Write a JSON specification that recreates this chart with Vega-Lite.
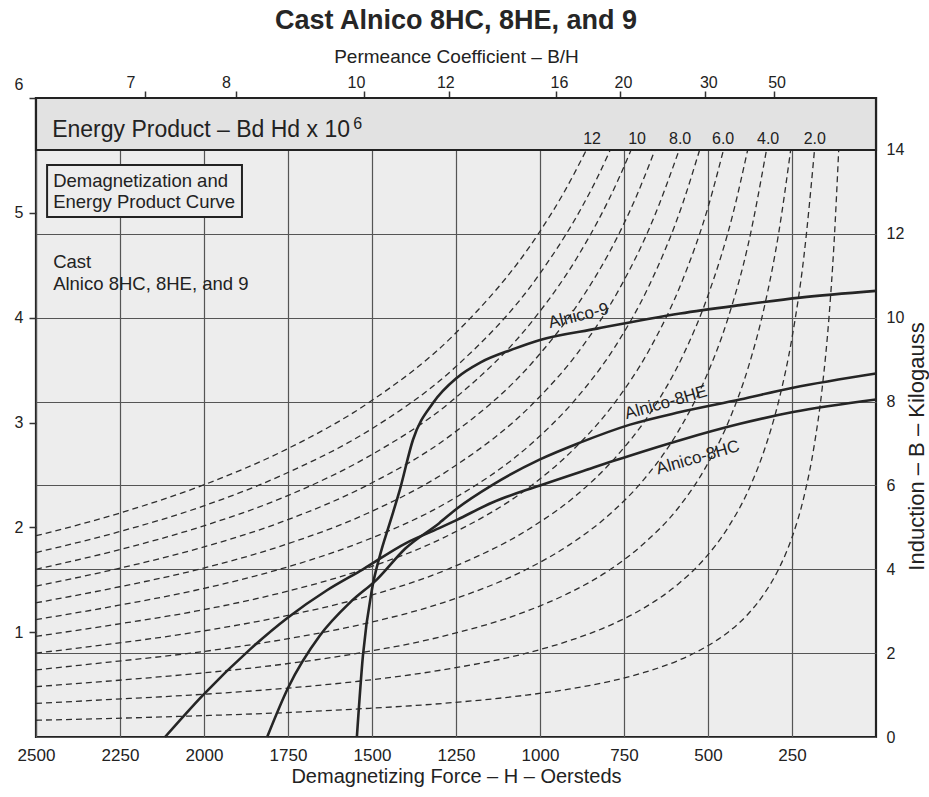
{
"$schema": "https://vega.github.io/schema/vega-lite/v6.json",
"width": 840,
"height": 639,
"autosize": {"type": "none"},
"padding": {"left": 36, "top": 98, "right": 53, "bottom": 60},
"background": "#ffffff",
"title": {"text": "Cast Alnico 8HC, 8HE, and 9", "fontSize": 27, "fontWeight": "bold", "font": "Liberation Sans", "color": "#262626", "anchor": "middle", "offset": 12},
"config": {"font": "Liberation Sans", "view": {"fill": "#ededed", "stroke": "#222222", "strokeWidth": 2.2}, "text": {"font": "Liberation Sans", "color": "#222222"}},
"resolve": {"axis": {"x": "independent", "y": "independent"}},
"data": {"values": [{}]},
"datasets": {
"energy": [
{"E":12,"H":2500,"B":4.8},{"E":12,"H":2255,"B":5.33},{"E":12,"H":2005,"B":6.0},{"E":12,"H":1755,"B":6.86},{"E":12,"H":1505,"B":8.0},{"E":12,"H":1255,"B":9.6},{"E":12,"H":1005,"B":12.0},{"E":12,"H":930,"B":12.97},{"E":12,"H":862,"B":14},
{"E":11,"H":2500,"B":4.4},{"E":11,"H":2255,"B":4.89},{"E":11,"H":2005,"B":5.5},{"E":11,"H":1755,"B":6.29},{"E":11,"H":1505,"B":7.33},{"E":11,"H":1255,"B":8.8},{"E":11,"H":1005,"B":11.0},{"E":11,"H":880,"B":12.57},{"E":11,"H":830,"B":13.33},{"E":11,"H":791,"B":14},
{"E":10,"H":2500,"B":4.0},{"E":10,"H":2265,"B":4.44},{"E":10,"H":2015,"B":5.0},{"E":10,"H":1765,"B":5.71},{"E":10,"H":1515,"B":6.67},{"E":10,"H":1265,"B":8.0},{"E":10,"H":1015,"B":10.0},{"E":10,"H":890,"B":11.43},{"E":10,"H":765,"B":13.33},{"E":10,"H":729,"B":14},
{"E":9,"H":2500,"B":3.6},{"E":9,"H":2265,"B":4.0},{"E":9,"H":2015,"B":4.5},{"E":9,"H":1765,"B":5.14},{"E":9,"H":1515,"B":6.0},{"E":9,"H":1265,"B":7.2},{"E":9,"H":1015,"B":9.0},{"E":9,"H":890,"B":10.29},{"E":9,"H":765,"B":12.0},{"E":9,"H":715,"B":12.86},{"E":9,"H":658,"B":14},
{"E":8,"H":2500,"B":3.2},{"E":8,"H":2265,"B":3.56},{"E":8,"H":2015,"B":4.0},{"E":8,"H":1765,"B":4.57},{"E":8,"H":1515,"B":5.33},{"E":8,"H":1265,"B":6.4},{"E":8,"H":1015,"B":8.0},{"E":8,"H":890,"B":9.14},{"E":8,"H":765,"B":10.67},{"E":8,"H":665,"B":12.31},{"E":8,"H":586,"B":14},
{"E":7,"H":2500,"B":2.8},{"E":7,"H":2275,"B":3.11},{"E":7,"H":2025,"B":3.5},{"E":7,"H":1775,"B":4.0},{"E":7,"H":1525,"B":4.67},{"E":7,"H":1275,"B":5.6},{"E":7,"H":1025,"B":7.0},{"E":7,"H":900,"B":8.0},{"E":7,"H":775,"B":9.33},{"E":7,"H":675,"B":10.77},{"E":7,"H":575,"B":12.73},{"E":7,"H":525,"B":14},
{"E":6,"H":2500,"B":2.4},{"E":6,"H":2275,"B":2.67},{"E":6,"H":2025,"B":3.0},{"E":6,"H":1775,"B":3.43},{"E":6,"H":1525,"B":4.0},{"E":6,"H":1275,"B":4.8},{"E":6,"H":1025,"B":6.0},{"E":6,"H":900,"B":6.86},{"E":6,"H":775,"B":8.0},{"E":6,"H":675,"B":9.23},{"E":6,"H":575,"B":10.91},{"E":6,"H":500,"B":12.63},{"E":6,"H":454,"B":14},
{"E":5,"H":2500,"B":2.0},{"E":5,"H":2275,"B":2.22},{"E":5,"H":2025,"B":2.5},{"E":5,"H":1775,"B":2.86},{"E":5,"H":1525,"B":3.33},{"E":5,"H":1275,"B":4.0},{"E":5,"H":1025,"B":5.0},{"E":5,"H":900,"B":5.71},{"E":5,"H":775,"B":6.67},{"E":5,"H":675,"B":7.69},{"E":5,"H":575,"B":9.09},{"E":5,"H":500,"B":10.53},{"E":5,"H":425,"B":12.5},{"E":5,"H":382,"B":14},
{"E":4,"H":2500,"B":1.6},{"E":4,"H":2290,"B":1.78},{"E":4,"H":2040,"B":2.0},{"E":4,"H":1790,"B":2.29},{"E":4,"H":1540,"B":2.67},{"E":4,"H":1290,"B":3.2},{"E":4,"H":1040,"B":4.0},{"E":4,"H":915,"B":4.57},{"E":4,"H":790,"B":5.33},{"E":4,"H":690,"B":6.15},{"E":4,"H":590,"B":7.27},{"E":4,"H":515,"B":8.42},{"E":4,"H":440,"B":10.0},{"E":4,"H":380,"B":11.76},{"E":4,"H":326,"B":14},
{"E":3,"H":2500,"B":1.2},{"E":3,"H":2290,"B":1.33},{"E":3,"H":2040,"B":1.5},{"E":3,"H":1790,"B":1.71},{"E":3,"H":1540,"B":2.0},{"E":3,"H":1290,"B":2.4},{"E":3,"H":1040,"B":3.0},{"E":3,"H":915,"B":3.43},{"E":3,"H":790,"B":4.0},{"E":3,"H":690,"B":4.62},{"E":3,"H":590,"B":5.45},{"E":3,"H":515,"B":6.32},{"E":3,"H":440,"B":7.5},{"E":3,"H":380,"B":8.82},{"E":3,"H":330,"B":10.34},{"E":3,"H":290,"B":12.0},{"E":3,"H":254,"B":14},
{"E":2,"H":2500,"B":0.8},{"E":2,"H":2290,"B":0.89},{"E":2,"H":2040,"B":1.0},{"E":2,"H":1790,"B":1.14},{"E":2,"H":1540,"B":1.33},{"E":2,"H":1290,"B":1.6},{"E":2,"H":1040,"B":2.0},{"E":2,"H":915,"B":2.29},{"E":2,"H":790,"B":2.67},{"E":2,"H":690,"B":3.08},{"E":2,"H":590,"B":3.64},{"E":2,"H":515,"B":4.21},{"E":2,"H":440,"B":5.0},{"E":2,"H":380,"B":5.88},{"E":2,"H":330,"B":6.9},{"E":2,"H":290,"B":8.0},{"E":2,"H":250,"B":9.52},{"E":2,"H":215,"B":11.43},{"E":2,"H":183,"B":14},
{"E":1,"H":2500,"B":0.4},{"E":1,"H":2290,"B":0.44},{"E":1,"H":2040,"B":0.5},{"E":1,"H":1790,"B":0.57},{"E":1,"H":1540,"B":0.67},{"E":1,"H":1290,"B":0.8},{"E":1,"H":1040,"B":1.0},{"E":1,"H":915,"B":1.14},{"E":1,"H":790,"B":1.33},{"E":1,"H":690,"B":1.54},{"E":1,"H":590,"B":1.82},{"E":1,"H":515,"B":2.11},{"E":1,"H":440,"B":2.5},{"E":1,"H":380,"B":2.94},{"E":1,"H":330,"B":3.45},{"E":1,"H":290,"B":4.0},{"E":1,"H":250,"B":4.76},{"E":1,"H":215,"B":5.71},{"E":1,"H":185,"B":6.9},{"E":1,"H":160,"B":8.33},{"E":1,"H":140,"B":10.0},{"E":1,"H":125,"B":11.76},{"E":1,"H":111,"B":14}
],
"elabels": [
{"t":"12","H":845},{"t":"10","H":711},{"t":"8.0","H":583},{"t":"6.0","H":455},{"t":"4.0","H":321},{"t":"2.0","H":182}
],
"demag": [
{"alloy":"Alnico-9","H":1545,"B":0},{"alloy":"Alnico-9","H":1527,"B":1.94},{"alloy":"Alnico-9","H":1500,"B":3.53},{"alloy":"Alnico-9","H":1476,"B":4.34},{"alloy":"Alnico-9","H":1446,"B":5.13},{"alloy":"Alnico-9","H":1417,"B":5.9},{"alloy":"Alnico-9","H":1378,"B":7.09},{"alloy":"Alnico-9","H":1318,"B":7.97},{"alloy":"Alnico-9","H":1247,"B":8.57},{"alloy":"Alnico-9","H":1178,"B":8.93},{"alloy":"Alnico-9","H":1080,"B":9.25},{"alloy":"Alnico-9","H":1000,"B":9.47},{"alloy":"Alnico-9","H":830,"B":9.74},{"alloy":"Alnico-9","H":583,"B":10.1},{"alloy":"Alnico-9","H":405,"B":10.3},{"alloy":"Alnico-9","H":226,"B":10.48},{"alloy":"Alnico-9","H":0,"B":10.64},
{"alloy":"Alnico-8HE","H":1812,"B":0},{"alloy":"Alnico-8HE","H":1750,"B":1.17},{"alloy":"Alnico-8HE","H":1655,"B":2.42},{"alloy":"Alnico-8HE","H":1565,"B":3.21},{"alloy":"Alnico-8HE","H":1485,"B":3.76},{"alloy":"Alnico-8HE","H":1400,"B":4.5},{"alloy":"Alnico-8HE","H":1300,"B":5.1},{"alloy":"Alnico-8HE","H":1247,"B":5.45},{"alloy":"Alnico-8HE","H":1140,"B":6.02},{"alloy":"Alnico-8HE","H":1000,"B":6.62},{"alloy":"Alnico-8HE","H":881,"B":7.02},{"alloy":"Alnico-8HE","H":732,"B":7.45},{"alloy":"Alnico-8HE","H":583,"B":7.75},{"alloy":"Alnico-8HE","H":405,"B":8.05},{"alloy":"Alnico-8HE","H":247,"B":8.33},{"alloy":"Alnico-8HE","H":0,"B":8.67},
{"alloy":"Alnico-8HC","H":2116,"B":0},{"alloy":"Alnico-8HC","H":2003,"B":1.0},{"alloy":"Alnico-8HC","H":1863,"B":2.09},{"alloy":"Alnico-8HC","H":1750,"B":2.85},{"alloy":"Alnico-8HC","H":1634,"B":3.5},{"alloy":"Alnico-8HC","H":1527,"B":4.0},{"alloy":"Alnico-8HC","H":1400,"B":4.62},{"alloy":"Alnico-8HC","H":1300,"B":4.98},{"alloy":"Alnico-8HC","H":1247,"B":5.18},{"alloy":"Alnico-8HC","H":1140,"B":5.6},{"alloy":"Alnico-8HC","H":1000,"B":6.0},{"alloy":"Alnico-8HC","H":851,"B":6.4},{"alloy":"Alnico-8HC","H":783,"B":6.58},{"alloy":"Alnico-8HC","H":583,"B":7.08},{"alloy":"Alnico-8HC","H":405,"B":7.47},{"alloy":"Alnico-8HC","H":247,"B":7.75},{"alloy":"Alnico-8HC","H":0,"B":8.05}
]
},
"layer": [
{
"data": {"name": "energy"},
"mark": {"type": "line", "interpolate": "monotone", "strokeDash": [6, 4], "strokeWidth": 1.3, "color": "#2e2e2e"},
"encoding": {
"x": {"field": "H", "type": "quantitative", "scale": {"domain": [0, 2500], "reverse": true, "nice": false, "zero": false},
"axis": {"orient": "bottom", "values": [2500, 2250, 2000, 1750, 1500, 1250, 1000, 750, 500, 250], "format": "d", "title": "Demagnetizing Force – H – Oersteds", "grid": true, "gridColor": "#555555", "gridWidth": 1.2, "gridOpacity": 1, "domain": false, "ticks": false, "labelFlush": false, "labelOverlap": false, "labelFontSize": 17, "labelColor": "#222222", "labelPadding": 10, "titleFontSize": 20, "titleFontWeight": "normal", "titleColor": "#222222", "titlePadding": 3}},
"y": {"field": "B", "type": "quantitative", "scale": {"domain": [0, 15.24], "nice": false, "zero": true},
"axis": {"orient": "right", "values": [0, 2, 4, 6, 8, 10, 12, 14], "title": "Induction – B – Kilogauss", "grid": true, "gridColor": "#555555", "gridWidth": 1.2, "gridOpacity": 1, "domain": false, "ticks": false, "labelFlush": false, "labelOverlap": false, "labelFontSize": 16, "labelColor": "#222222", "labelPadding": 10, "titleFontSize": 22, "titleFontWeight": "normal", "titleColor": "#222222", "titleAngle": 270, "titleX": 40, "titleY": 348, "titleAlign": "center", "titleBaseline": "middle"}},
"detail": {"field": "E", "type": "nominal"}
}
},
{
"mark": {"type": "rect", "fill": "#e2e2e2", "stroke": "#222222", "strokeWidth": 2.2},
"encoding": {
"x": {"datum": 2500, "type": "quantitative", "axis": null},
"x2": {"datum": 0},
"y": {"datum": 14, "type": "quantitative", "axis": null},
"y2": {"datum": 15.24}
}
},
{
"mark": {"type": "text", "text": "Energy Product – Bd Hd x 10", "fontSize": 23, "align": "left", "baseline": "alphabetic"},
"encoding": {
"x": {"datum": 2452, "type": "quantitative", "axis": null},
"y": {"datum": 14.31, "type": "quantitative", "axis": null}
}
},
{
"mark": {"type": "text", "text": "6", "fontSize": 16, "align": "left", "baseline": "alphabetic"},
"encoding": {
"x": {"datum": 1556, "type": "quantitative", "axis": null},
"y": {"datum": 14.5, "type": "quantitative", "axis": null}
}
},
{
"data": {"name": "elabels"},
"mark": {"type": "text", "fontSize": 16, "align": "center", "baseline": "alphabetic"},
"encoding": {
"x": {"field": "H", "type": "quantitative", "axis": null},
"y": {"datum": 14.15, "type": "quantitative", "axis": null},
"text": {"field": "t"}
}
},
{
"mark": {"type": "rect", "fill": "#ededed", "stroke": "#222222", "strokeWidth": 2},
"encoding": {
"x": {"datum": 2467, "type": "quantitative", "axis": null},
"x2": {"datum": 1887},
"y": {"datum": 12.4, "type": "quantitative", "axis": null},
"y2": {"datum": 13.64}
}
},
{
"mark": {"type": "text", "text": ["Demagnetization and", "Energy Product Curve"], "fontSize": 18.5, "lineHeight": 21, "align": "left", "baseline": "alphabetic"},
"encoding": {
"x": {"datum": 2449, "type": "quantitative", "axis": null},
"y": {"datum": 13.12, "type": "quantitative", "axis": null}
}
},
{
"mark": {"type": "text", "text": ["Cast", "Alnico 8HC, 8HE, and 9"], "fontSize": 18.5, "lineHeight": 22, "align": "left", "baseline": "alphabetic"},
"encoding": {
"x": {"datum": 2449, "type": "quantitative", "axis": null},
"y": {"datum": 11.19, "type": "quantitative", "axis": null}
}
},
{
"data": {"name": "demag"},
"mark": {"type": "line", "interpolate": "monotone", "strokeWidth": 2.6, "color": "#252525"},
"encoding": {
"x": {"field": "H", "type": "quantitative",
"axis": {"orient": "top", "values": [2177, 1905, 1524, 1270, 952.5, 762, 508, 304.8], "labelExpr": "format(15240 / datum.value, '.0f')", "title": "Permeance Coefficient – B/H", "grid": false, "domain": false, "ticks": true, "tickSize": 7, "tickWidth": 1.5, "tickColor": "#333333", "labelFlush": false, "labelOverlap": false, "labelFontSize": 16, "labelColor": "#222222", "labelPadding": 1,
"labelOffset": {"condition": [{"test": "datum.value > 2000", "value": -14}, {"test": "datum.value > 1800", "value": -10}, {"test": "datum.value > 1400", "value": -8}, {"test": "datum.value > 1000", "value": -4}], "value": 3},
"titleFontSize": 19, "titleFontWeight": "normal", "titleColor": "#222222", "titlePadding": 8}},
"y": {"field": "B", "type": "quantitative",
"axis": {"orient": "left", "values": [2.5, 5, 7.5, 10, 12.5, 15.24], "labelExpr": "datum.value > 15 ? '6' : format(datum.value / 2.5, '.0f')", "title": null, "grid": false, "domain": false, "ticks": true, "tickSize": 7, "tickWidth": 1.5, "tickColor": "#333333", "labelFlush": false, "labelOverlap": false, "labelFontSize": 16, "labelColor": "#222222", "labelPadding": 6,
"labelOffset": {"condition": {"test": "datum.value > 15", "value": -14}, "value": 0}}},
"detail": {"field": "alloy", "type": "nominal"}
}
},
{
"mark": {"type": "text", "text": "Alnico-9", "fontSize": 17, "angle": 346, "align": "center", "baseline": "middle"},
"encoding": {
"x": {"datum": 885, "type": "quantitative", "axis": null},
"y": {"datum": 10.04, "type": "quantitative", "axis": null}
}
},
{
"mark": {"type": "text", "text": "Alnico-8HE", "fontSize": 17, "angle": 344, "align": "center", "baseline": "middle"},
"encoding": {
"x": {"datum": 625, "type": "quantitative", "axis": null},
"y": {"datum": 7.97, "type": "quantitative", "axis": null}
}
},
{
"mark": {"type": "text", "text": "Alnico-8HC", "fontSize": 17, "angle": 344, "align": "center", "baseline": "middle"},
"encoding": {
"x": {"datum": 530, "type": "quantitative", "axis": null},
"y": {"datum": 6.66, "type": "quantitative", "axis": null}
}
}
]
}
